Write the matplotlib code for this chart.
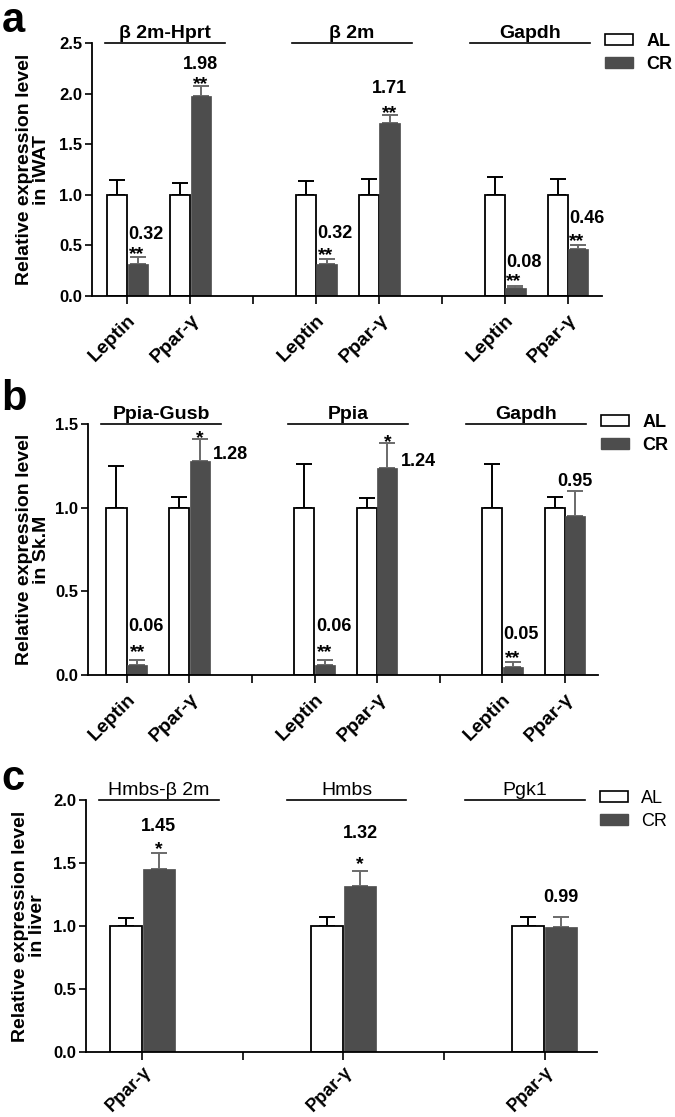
import numpy as np
import matplotlib
matplotlib.use('Agg')
import matplotlib.pyplot as plt
from matplotlib.patches import Patch

plt.rcParams['font.family'] = ['Liberation Sans', 'DejaVu Sans']
plt.rcParams['font.weight'] = 'bold'
plt.rcParams['axes.labelweight'] = 'bold'

# ---- panel a: iWAT ----
groups_a = ['β 2m-Hprt', 'β 2m', 'Gapdh']
genes_a = ['Leptin', 'Ppar-γ']
al_a = [1.0, 1.0, 1.0, 1.0, 1.0, 1.0]
al_err_a = [0.15, 0.12, 0.14, 0.16, 0.18, 0.16]
cr_a = [0.32, 1.98, 0.32, 1.71, 0.08, 0.46]
cr_err_a = [0.065, 0.10, 0.05, 0.08, 0.02, 0.045]
stars_a = ['**', '**', '**', '**', '**', '**']

# ---- panel b: Sk.M ----
groups_b = ['Ppia-Gusb', 'Ppia', 'Gapdh']
genes_b = ['Leptin', 'Ppar-γ']
al_b = [1.0, 1.0, 1.0, 1.0, 1.0, 1.0]
al_err_b = [0.25, 0.065, 0.26, 0.06, 0.26, 0.065]
cr_b = [0.06, 1.28, 0.06, 1.24, 0.05, 0.95]
cr_err_b = [0.03, 0.13, 0.03, 0.145, 0.025, 0.15]
stars_b = ['**', '*', '**', '*', '**', '']

# ---- panel c: liver ----
groups_c = ['Hmbs-β 2m', 'Hmbs', 'Pgk1']
genes_c = ['Ppar-γ']
al_c = [1.0, 1.0, 1.0]
al_err_c = [0.06, 0.07, 0.07]
cr_c = [1.45, 1.32, 0.99]
cr_err_c = [0.13, 0.12, 0.08]
stars_c = ['*', '*', '']

PX = 0.72          # points per pixel at dpi 100
BAR_W = 0.32
CR_COLOR = '#4d4d4d'
ERR_CR = '#6a6a6a'
VAL_FS = 13
STAR_FS = 14

# label layout per CR bar: (value mode, star mode, star dy px, value dy px)
lay_a = [('left', 'left', 9, 25), ('center', 'center', 8, 23), ('left', 'left', 10, 27),
         ('center', 'center', 8, 28), ('left', 'left', 11, 25), ('left', 'left', 10, 28)]
lay_b = [('left', 'center', 14, 35), ('side', 'center', 7, 8), ('left', 'center', 14, 35),
         ('side', 'center', 7, 8), ('left', 'center', 11, 30), ('center', 'center', 0, 11)]
lay_c = [('center', 'center', 10, 28), ('center', 'center', 13, 39), ('center', 'center', 0, 22)]


def put(ax, txt, x, y, dx_px, dy_px, ha, fs, star=False):
    # star glyph sits high in its box, so anchor on baseline
    if star:
        dy = dy_px * PX - 0.58 * fs
        va = 'baseline'
    else:
        dy = dy_px * PX
        va = 'center_baseline'
    ax.annotate(txt, xy=(x, y), xytext=(dx_px * PX, dy), textcoords='offset points',
                ha=ha, va=va, fontsize=fs, fontweight='bold', annotation_clip=False)


def draw_panel(ax, groups, genes, al, al_err, cr, cr_err, stars, lay, ylim, yticks,
               ylabel, label_x, xlim, legend_weight='bold', title_weight='bold',
               xfs=14, xpad=5):
    step = len(genes) + 1
    pos = np.array([g * step + i for g in range(len(groups)) for i in range(len(genes))])
    n_ticks = len(groups) * step - 1
    zeros = np.zeros(len(al))
    ax.bar(pos - 0.165, al, BAR_W, color='white', edgecolor='black', linewidth=1.3,
           label='AL', zorder=2)
    ax.bar(pos + 0.165, cr, BAR_W, color=CR_COLOR, edgecolor=CR_COLOR, linewidth=0.5,
           label='CR', zorder=2)
    ax.errorbar(pos - 0.165, al, yerr=[zeros, al_err], fmt='none', ecolor='black',
                elinewidth=1.4, capsize=6, capthick=1.4, zorder=1)
    ax.errorbar(pos + 0.165, cr, yerr=[zeros, cr_err], fmt='none', ecolor=ERR_CR,
                elinewidth=1.4, capsize=6, capthick=1.4, zorder=1)

    for k, (p, v, e, s) in enumerate(zip(pos, cr, cr_err, stars)):
        vmode, smode, dys, dyv = lay[k]
        xc = p + 0.165
        xl = xc - BAR_W / 2
        xr = xc + BAR_W / 2
        top = v + e
        if s:
            if smode == 'left':
                put(ax, s, xl, top, 1, dys, 'left', STAR_FS, star=True)
            else:
                put(ax, s, xc, top, 0, dys, 'center', STAR_FS, star=True)
        txt = f'{v:.2f}'
        if vmode == 'left':
            put(ax, txt, xl, top, 1, dyv, 'left', VAL_FS)
        elif vmode == 'side':
            put(ax, txt, xr, v, 3, dyv, 'left', VAL_FS)
        else:
            put(ax, txt, xc, top, 0, dyv, 'center', VAL_FS)

    ticklabels = []
    for t in range(n_ticks):
        ticklabels.append('' if t % step == len(genes) else genes[t % step])
    ax.set_xticks(np.arange(n_ticks))
    ax.set_xticklabels(ticklabels, rotation=45, ha='right', rotation_mode='anchor',
                       fontsize=xfs, fontweight='bold')
    ax.set_xlim(*xlim)
    ax.set_ylim(*ylim)
    ax.set_yticks(yticks)
    ax.set_yticklabels([f'{t:.1f}' for t in yticks], fontsize=12, fontweight='bold')
    ax.tick_params(axis='x', length=6, width=1.2, pad=xpad)
    ax.tick_params(axis='y', length=5, width=1.2, pad=2)
    for sp in ['top', 'right']:
        ax.spines[sp].set_visible(False)
    for sp in ['left', 'bottom']:
        ax.spines[sp].set_linewidth(1.3)

    ax.set_ylabel(ylabel, fontsize=14, fontweight='bold', linespacing=1.0)
    ax.yaxis.set_label_coords(label_x, 0.5)

    # group headers: line + reference gene name
    for c, name in zip([0.143, 0.51, 0.859], groups):
        ax.plot([c - 0.117, c + 0.117], [1, 1], color='black', lw=1.2,
                transform=ax.transAxes, clip_on=False)
        ax.annotate(name, xy=(c, 1), xycoords='axes fraction', xytext=(0, 5 * PX),
                    textcoords='offset points', ha='center', va='baseline',
                    fontsize=14, fontweight=title_weight)

    handles = [Patch(facecolor='white', edgecolor='black', linewidth=1.2, label='AL'),
               Patch(facecolor=CR_COLOR, edgecolor=CR_COLOR, label='CR')]
    ax.legend(handles=handles, loc='upper left', bbox_to_anchor=(1.005, 1.04),
              frameon=False, borderaxespad=0, borderpad=0, handlelength=1.55,
              handleheight=0.55, handletextpad=0.75, labelspacing=0.35,
              prop={'size': 13, 'weight': legend_weight})


fig = plt.figure(figsize=(6.75, 11.17), dpi=100)
ax_a = fig.add_axes([0.1363, 0.735, 0.7556, 0.2265])
ax_b = fig.add_axes([0.1304, 0.3957, 0.7556, 0.2247])
ax_c = fig.add_axes([0.1274, 0.0582, 0.757, 0.2256])

draw_panel(ax_a, groups_a, genes_a, al_a, al_err_a, cr_a, cr_err_a, stars_a, lay_a,
           (0, 2.5), [0, 0.5, 1.0, 1.5, 2.0, 2.5],
           'Relative expression level\nin iWAT', -0.082, (-0.56, 7.54))
draw_panel(ax_b, groups_b, genes_b, al_b, al_err_b, cr_b, cr_err_b, stars_b, lay_b,
           (0, 1.5), [0, 0.5, 1.0, 1.5],
           'Relative expression level\nin Sk.M', -0.075, (-0.62, 7.53))
draw_panel(ax_c, groups_c, genes_c, al_c, al_err_c, cr_c, cr_err_c, stars_c, lay_c,
           (0, 2.0), [0, 0.5, 1.0, 1.5, 2.0],
           'Relative expression level\nin liver', -0.078, (-0.56, 4.52),
           legend_weight='normal', title_weight='normal', xfs=13, xpad=2)

# panel letters
fig.text(0.002, 0.999, 'a', fontsize=30, fontweight='bold', va='top', ha='left')
for letter, y in zip(['b', 'c'], [0.633, 0.2927]):
    fig.text(0.002, y, letter, fontsize=30, fontweight='bold', va='baseline', ha='left')

fig.savefig('out.png', dpi=100)
